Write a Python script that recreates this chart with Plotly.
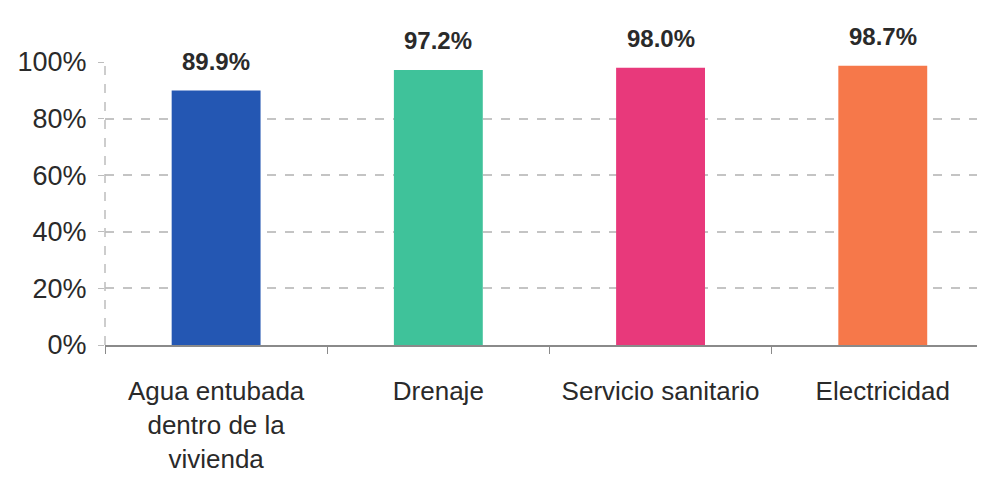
import plotly.graph_objects as go

categories = ["Agua entubada<br>dentro de la<br>vivienda", "Drenaje", "Servicio sanitario", "Electricidad"]
values = [89.9, 97.2, 98.0, 98.7]
labels = ["89.9%", "97.2%", "98.0%", "98.7%"]
colors = ["#2457b3", "#3fc29a", "#e8397b", "#f6784a"]
ytick_vals = [0, 20, 40, 60, 80, 100]
ytick_text = ["0%", "20%", "40%", "60%", "80%", "100%"]

font_family = "Liberation Sans, Arial, sans-serif"

fig = go.Figure(go.Bar(
    x=categories,
    y=values,
    marker=dict(color=colors, line=dict(width=0)),
    width=0.4,
    hoverinfo="skip",
))

for c, v, t in zip(categories, values, labels):
    fig.add_annotation(x=c, y=v, text=t, showarrow=False, yanchor="bottom",
                       yshift=14,
                       font=dict(family=font_family, size=24, color="#2a2a2a", weight="bold"))

# page body has an 8px default margin; size the figure to fit the window
fig.update_layout(
    width=977, height=478,
    margin=dict(l=97, r=0, t=54, b=141),
    paper_bgcolor="white", plot_bgcolor="white",
    showlegend=False,
    font=dict(family=font_family, color="#2a2a2a"),
)
fig.update_xaxes(
    type="category",
    range=[-0.5, 3.46],
    showline=True, linecolor="#8a8a8a", linewidth=2,
    ticks="outside", tickson="boundaries", ticklen=7, tickcolor="#8a8a8a",
    ticklabelstandoff=22,
    showgrid=False, zeroline=False, automargin=False,
    tickfont=dict(size=26, family=font_family, color="#2a2a2a"),
)
fig.update_yaxes(
    range=[0, 100],
    tickmode="array", tickvals=ytick_vals, ticktext=ytick_text,
    showgrid=True, gridcolor="#c4c4c4", griddash="dash", gridwidth=1.5,
    showline=False,
    ticks="outside", ticklen=6, tickcolor="#bdbdbd",
    ticklabelstandoff=6,
    zeroline=False, automargin=False,
    tickfont=dict(size=27, family=font_family, color="#2a2a2a"),
)
fig.add_shape(type="line", xref="paper", yref="paper", x0=0, x1=0, y0=0, y1=1,
              line=dict(color="#bdbdbd", width=1.5, dash="dash"))

fig.write_html("out.html")
